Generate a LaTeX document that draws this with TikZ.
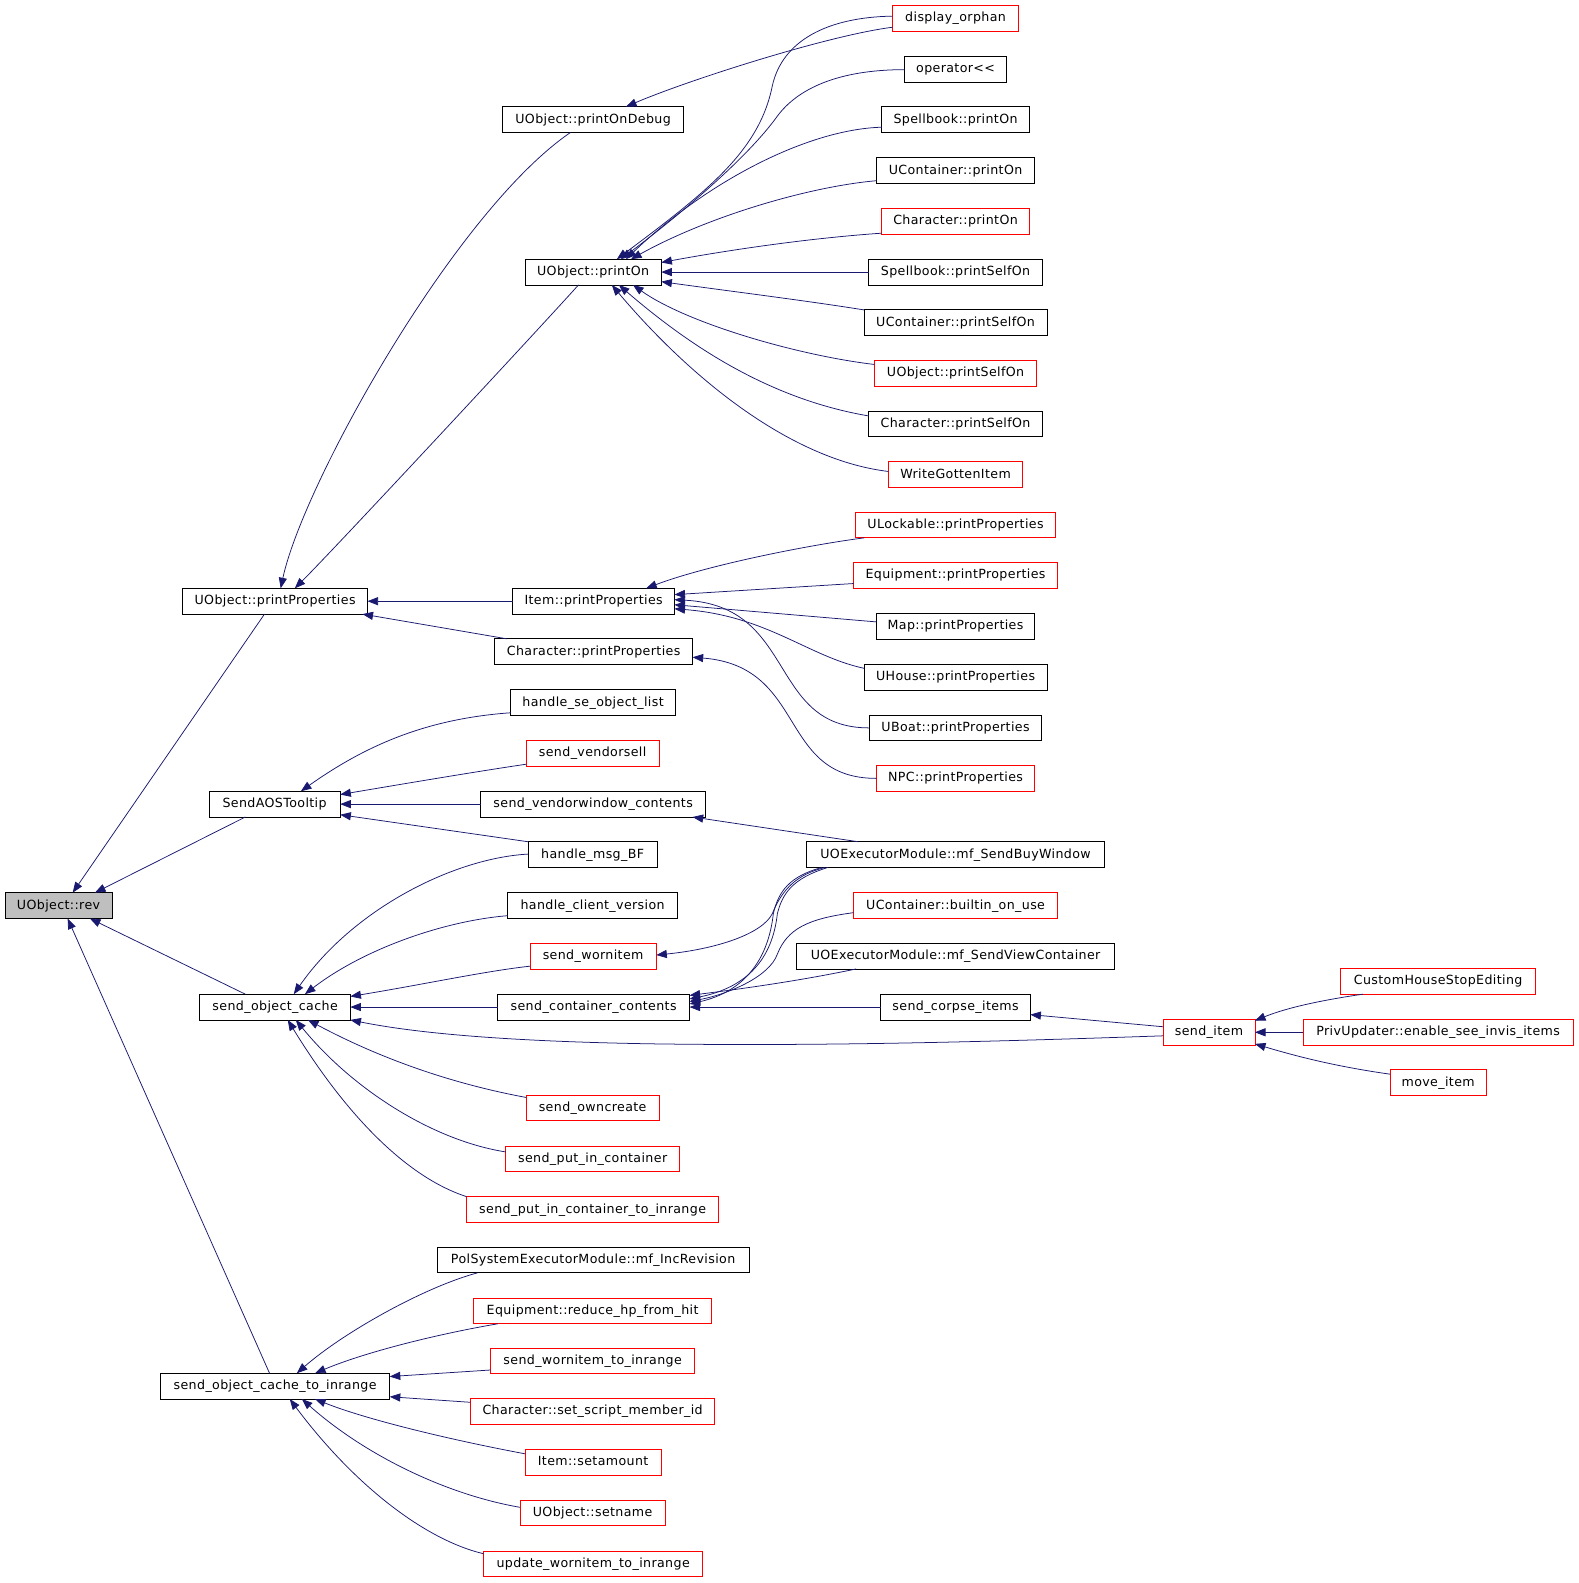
\documentclass[tikz,border=0pt]{standalone}
\usepackage{fontspec}
\setmainfont{DejaVu Sans}[LetterSpace=3, Ligatures=TeXOff]
\usetikzlibrary{arrows.meta}
\definecolor{edgeblue}{HTML}{191970}
\definecolor{nodegray}{HTML}{BFBFBF}
\begin{document}
\begin{tikzpicture}[x=1pt,y=-1pt,
  box/.style={draw=black, line width=0.8pt, minimum height=25.5pt, inner sep=0pt, outer sep=0pt,
    text height=9pt, text depth=2pt, font=\fontsize{12.5}{14}\selectfont},
  redbox/.style={box, draw=red},
  graybox/.style={box, fill=nodegray},
  e/.style={draw=edgeblue, line width=0.75pt, {Triangle[length=10.5pt,width=8pt]}-}]
\useasboundingbox[fill=white] (0,0) rectangle (1564,1568);

% column 1
\node[graybox, minimum width=106] (rev) at (58,897) {UObject::rev};
\node[box, minimum width=183] (pp) at (272.5,595.5) {UObject::printProperties};
\node[box, minimum width=130] (aos) at (272,796.5) {SendAOSTooltip};
\node[box, minimum width=149] (soc) at (272.5,997.5) {send\_object\_cache};
\node[box, minimum width=227] (soci) at (272.5,1373) {send\_object\_cache\_to\_inrange};

% column 2
\node[box, minimum width=179] (pod) at (587.5,118.5) {UObject::printOnDebug};
\node[box, minimum width=135] (pon) at (587.5,269.5) {UObject::printOn};
\node[box, minimum width=160] (ipp) at (588,595.5) {Item::printProperties};
\node[box, minimum width=196] (cpp) at (588,645.5) {Character::printProperties};
\node[box, minimum width=163] (hse) at (587.5,696) {handle\_se\_object\_list};
\node[redbox, minimum width=132] (vsell) at (587,746) {send\_vendorsell};
\node[box, minimum width=223] (vwin) at (587.5,796.5) {send\_vendorwindow\_contents};
\node[box, minimum width=128] (hbf) at (587,846.5) {handle\_msg\_BF};
\node[box, minimum width=168] (hcv) at (587,897) {handle\_client\_version};
\node[redbox, minimum width=125] (worn) at (587.5,947) {send\_wornitem};
\node[box, minimum width=190] (scc) at (588,997.5) {send\_container\_contents};
\node[redbox, minimum width=132] (own) at (587,1097.5) {send\_owncreate};
\node[redbox, minimum width=172] (pic) at (587,1148) {send\_put\_in\_container};
\node[redbox, minimum width=250] (picir) at (587,1198) {send\_put\_in\_container\_to\_inrange};
\node[box, minimum width=309] (pol) at (587.5,1248) {PolSystemExecutorModule::mf\_IncRevision};
\node[redbox, minimum width=236] (rhp) at (587,1298.5) {Equipment::reduce\_hp\_from\_hit};
\node[redbox, minimum width=202] (wir) at (587,1348) {send\_wornitem\_to\_inrange};
\node[redbox, minimum width=242] (sss) at (587,1398) {Character::set\_script\_member\_id};
\node[redbox, minimum width=135] (sam) at (587.5,1448.5) {Item::setamount};
\node[redbox, minimum width=144] (sn) at (587,1498.5) {UObject::setname};
\node[redbox, minimum width=217] (uwi) at (587.5,1549) {update\_wornitem\_to\_inrange};

% column 3
\node[redbox, minimum width=125] (dor) at (946.5,18) {display\_orphan};
\node[box, minimum width=101] (opl) at (946.5,68.5) {operator<<};
\node[box, minimum width=146] (sbpo) at (946.5,118.5) {Spellbook::printOn};
\node[box, minimum width=157] (ucpo) at (946.5,169) {UContainer::printOn};
\node[redbox, minimum width=147] (chpo) at (946.5,219) {Character::printOn};
\node[box, minimum width=172] (sbps) at (946.5,269.5) {Spellbook::printSelfOn};
\node[box, minimum width=181] (ucps) at (946.5,319.5) {UContainer::printSelfOn};
\node[redbox, minimum width=161] (uops) at (946.5,369.5) {UObject::printSelfOn};
\node[box, minimum width=172] (chps) at (946.5,420) {Character::printSelfOn};
\node[redbox, minimum width=133] (wgi) at (946.5,470) {WriteGottenItem};
\node[redbox, minimum width=198] (ulpp) at (946.5,520) {ULockable::printProperties};
\node[redbox, minimum width=202] (eqpp) at (946.5,570) {Equipment::printProperties};
\node[box, minimum width=157] (mpp) at (946.5,620.5) {Map::printProperties};
\node[box, minimum width=181] (uhpp) at (946.5,671) {UHouse::printProperties};
\node[box, minimum width=171] (ubpp) at (946.5,721) {UBoat::printProperties};
\node[redbox, minimum width=157] (npcpp) at (946.5,771) {NPC::printProperties};
\node[box, minimum width=295] (buy) at (946.5,846.5) {UOExecutorModule::mf\_SendBuyWindow};
\node[redbox, minimum width=202] (bou) at (946.5,897) {UContainer::builtin\_on\_use};
\node[box, minimum width=315] (view) at (946.5,947) {UOExecutorModule::mf\_SendViewContainer};
\node[box, minimum width=148] (corpse) at (946.5,997.5) {send\_corpse\_items};

% columns 4 and 5
\node[redbox, minimum width=91] (sitem) at (1197.5,1022.5) {send\_item};
\node[redbox, minimum width=193] (chse) at (1424.5,972) {CustomHouseStopEditing};
\node[redbox, minimum width=267] (priv) at (1424.5,1022.5) {PrivUpdater::enable\_see\_invis\_items};
\node[redbox, minimum width=95] (mvi) at (1424.5,1072.5) {move\_item};

% edges into UObject::rev
\draw[e] (rev.north -| 72,0) -- (pp.south -| 262,0);
\draw[e] (rev.north -| 94,0) -- (aos.south -| 243,0);
\draw[e] (rev.south -| 89,0) -- (soc.north -| 243,0);
\draw[e] (rev.south -| 67,0) -- (soci.north -| 267,0);

% edges into UObject::printProperties
\draw[e] (pp.north -| 278,0) .. controls (300,480) and (450,210) .. (pod.south -| 565,0);
\draw[e] (pp.north -| 292,0) .. controls (330,545) and (530,330) .. (pon.south -| 573,0);
\draw[e] (pp.east) -- (ipp.west);
\draw[e] (pp.south -| 359,0) -- (cpp.north -| 502,0);

% edge into UObject::printOnDebug
\draw[e] (pod.north -| 620,0) .. controls (680,80) and (820,35) .. (dor.west |- 0,27);

% edges into UObject::printOn
\draw[e] (pon.north -| 611,0) .. controls (700,190) and (752,150) .. (765,85) .. controls (775,40) and (820,17) .. (dor.west |- 0,16);
\draw[e] (pon.north -| 615,0) .. controls (690,200) and (745,150) .. (770,115) .. controls (790,88) and (830,69) .. (opl.west |- 0,69);
\draw[e] (pon.north -| 620,0) .. controls (700,180) and (800,128) .. (sbpo.west |- 0,126);
\draw[e] (pon.north -| 625,0) .. controls (700,215) and (800,185) .. (ucpo.west |- 0,179);
\draw[e] (pon.east |- 0,260) .. controls (720,248) and (800,236) .. (chpo.west |- 0,231);
\draw[e] (pon.east) -- (sbps.west);
\draw[e] (pon.east |- 0,279) .. controls (720,288) and (800,298) .. (ucps.west |- 0,307);
\draw[e] (pon.south -| 627,0) .. controls (680,320) and (790,352) .. (uops.west |- 0,361);
\draw[e] (pon.south -| 613,0) .. controls (680,340) and (760,395) .. (chps.west |- 0,412);
\draw[e] (pon.south -| 606,0) .. controls (680,370) and (780,455) .. (wgi.west |- 0,467);

% edges into Item::printProperties
\draw[e] (ipp.north -| 640,0) .. controls (700,560) and (800,540) .. (ulpp.south -| 856,0);
\draw[e] (ipp.east |- 0,589) -- (eqpp.west |- 0,578);
\draw[e] (ipp.east |- 0,594) .. controls (790,600) and (760,721) .. (ubpp.west |- 0,721);
\draw[e] (ipp.east |- 0,599) -- (mpp.west |- 0,616);
\draw[e] (ipp.east |- 0,603) .. controls (760,610) and (800,650) .. (uhpp.west |- 0,662);

% edge into Character::printProperties
\draw[e] (cpp.east |- 0,651) .. controls (800,660) and (770,771) .. (npcpp.west |- 0,771);

% edges into SendAOSTooltip
\draw[e] (aos.north -| 298,0) .. controls (360,740) and (420,712) .. (hse.west |- 0,706);
\draw[e] (aos.east |- 0,787) .. controls (420,773) and (480,763) .. (vsell.west |- 0,757);
\draw[e] (aos.east) -- (vwin.west);
\draw[e] (aos.east |- 0,807) -- (hbf.north west);
\draw[e] (vwin.south -| 686,0) -- (buy.north -| 850,0);

% edges into send_object_cache
\draw[e] (soc.north -| 291,0) .. controls (350,900) and (450,850) .. (hbf.west |- 0,846);
\draw[e] (soc.north -| 302,0) .. controls (360,940) and (440,912) .. (hcv.west |- 0,907);
\draw[e] (soc.east |- 0,987) .. controls (420,975) and (480,962) .. (worn.west |- 0,957);
\draw[e] (soc.east) -- (scc.west);
\draw[e] (soc.south east) .. controls (420,1025) and (520,1032) .. (650,1034) .. controls (800,1036) and (950,1033) .. (sitem.west |- 0,1026);
\draw[e] (soc.south -| 305,0) .. controls (370,1045) and (440,1072) .. (own.west |- 0,1087);
\draw[e] (soc.south -| 293,0) .. controls (350,1080) and (430,1130) .. (pic.west |- 0,1141);
\draw[e] (soc.south -| 285,0) .. controls (340,1100) and (400,1165) .. (picir.north west);

% edges into send_wornitem and send_container_contents
\draw[e] (worn.east |- 0,946) .. controls (710,940) and (755,925) .. (765,905) .. controls (775,880) and (790,866) .. (buy.south -| 817,0);
\draw[e] (scc.east |- 0,989.5) .. controls (740,978) and (765,950) .. (770,905) .. controls (775,885) and (785,870) .. (buy.south -| 820,0);
\draw[e] (scc.east |- 0,994.5) .. controls (738,982) and (761,950) .. (766,905) .. controls (771,883) and (782,868) .. (buy.south -| 814,0);
\draw[e] (scc.east |- 0,992) .. controls (720,985) and (762,968) .. (770,945) .. controls (780,920) and (800,910) .. (bou.west |- 0,904);
\draw[e] (scc.east |- 0,986) .. controls (730,980) and (790,972) .. (view.south -| 848,0);
\draw[e] (scc.east) -- (corpse.west);
\draw[e] (corpse.east |- 0,1005) -- (sitem.west |- 0,1017);

% edges into send_item
\draw[e] (sitem.east |- 0,1011) .. controls (1270,1000) and (1300,992) .. (chse.south -| 1350,0);
\draw[e] (sitem.east) -- (priv.west);
\draw[e] (sitem.east |- 0,1034) .. controls (1280,1045) and (1320,1056) .. (mvi.west |- 0,1064);

% edges into send_object_cache_to_inrange
\draw[e] (soci.north -| 294,0) .. controls (340,1320) and (420,1275) .. (pol.south -| 473,0);
\draw[e] (soci.north -| 312,0) .. controls (360,1340) and (430,1322) .. (rhp.south -| 493,0);
\draw[e] (soci.east |- 0,1363.5) -- (wir.west |- 0,1357);
\draw[e] (soci.east |- 0,1383.5) -- (sss.west |- 0,1389);
\draw[e] (soci.south -| 312,0) .. controls (360,1405) and (440,1425) .. (sam.west |- 0,1440);
\draw[e] (soci.south -| 299,0) .. controls (360,1440) and (440,1480) .. (sn.west |- 0,1493);
\draw[e] (soci.south -| 287,0) .. controls (350,1470) and (420,1525) .. (uwi.west |- 0,1539);
\end{tikzpicture}
\end{document}
